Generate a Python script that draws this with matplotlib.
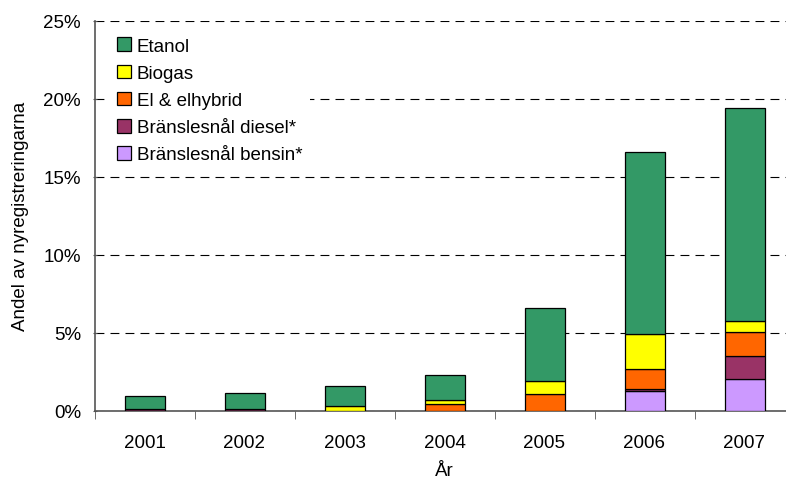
import numpy as np
import matplotlib.pyplot as plt
from matplotlib.ticker import FixedLocator, FuncFormatter

plt.rcParams['font.family'] = ['Liberation Sans', 'DejaVu Sans']

# data (percent of new registrations)
years = ['2001', '2002', '2003', '2004', '2005', '2006', '2007']
bensin = [0.0, 0.0, 0.0, 0.0, 0.0, 1.22, 2.03]
diesel = [0.1, 0.1, 0.0, 0.0, 0.0, 0.17, 1.47]
el = [0.0, 0.0, 0.0, 0.4, 1.06, 1.28, 1.56]
biogas = [0.0, 0.0, 0.3, 0.25, 0.82, 2.24, 0.67]
etanol = [0.8, 1.0, 1.25, 1.65, 4.66, 11.67, 13.67]

series = [
    ('Bränslesnål bensin*', bensin, '#CC99FF'),
    ('Bränslesnål diesel*', diesel, '#993366'),
    ('El & elhybrid', el, '#FF6600'),
    ('Biogas', biogas, '#FFFF00'),
    ('Etanol', etanol, '#339966'),
]

FS = 13.5

fig = plt.figure(figsize=(7.86, 4.81), dpi=100)
# axes runs a bit past the right edge of the picture, like the original
ax = fig.add_axes([94.5 / 786, 1 - 411.5 / 481, 700 / 786, 390 / 481])

x = np.arange(len(years))
bottom = np.zeros(len(years))
handles = []
for name, vals, col in series:
    vals = np.array(vals)
    b = ax.bar(x, vals, 0.40, bottom=bottom, color=col, edgecolor='black',
               linewidth=0.9, label=name, zorder=3)
    handles.append(b)
    bottom += vals

ax.set_xlim(-0.5, len(years) - 0.5)
ax.set_ylim(0, 25)
ax.set_yticks([0, 5, 10, 15, 20, 25])
ax.yaxis.set_major_formatter(FuncFormatter(lambda v, p: f'{v:.0f}%'))
ax.yaxis.grid(True, color='black', linestyle=(0, (8, 5.5)), linewidth=0.8, zorder=0)
ax.set_xticks(x)
ax.set_xticklabels(years)
ax.xaxis.set_minor_locator(FixedLocator(np.arange(-0.5, len(years), 1.0)))
ax.tick_params(axis='x', which='major', length=0, pad=17, labelsize=FS)
ax.tick_params(axis='x', which='minor', length=6, direction='out', color='#555555')
ax.tick_params(axis='y', length=3.5, direction='inout', color='#555555', labelsize=FS, pad=8)

for s in ['top', 'right']:
    ax.spines[s].set_visible(False)
for s in ['left', 'bottom']:
    ax.spines[s].set_color('#555555')
    ax.spines[s].set_linewidth(1.2)

ax.set_xlabel('År', fontsize=FS, labelpad=8)
ax.set_ylabel('Andel av nyregistreringarna', fontsize=FS, labelpad=10)

leg = ax.legend(handles[::-1], [h.get_label() for h in handles[::-1]],
                loc='upper left', bbox_to_anchor=(0.008, 1.0), frameon=True,
                facecolor='white', edgecolor='none', framealpha=1, fancybox=False,
                fontsize=FS, handlelength=0.75, handleheight=0.75,
                handletextpad=0.3, labelspacing=0.52, borderpad=0.4)
leg.set_zorder(5)

fig.savefig('out.png', dpi=100)
